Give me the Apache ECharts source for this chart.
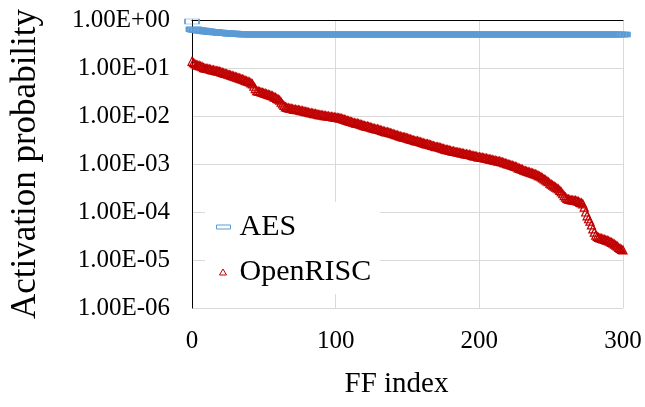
<!DOCTYPE html>
<html>
<head>
<meta charset="utf-8">
<script src="https://cdn.jsdelivr.net/npm/echarts@6/dist/echarts.min.js"></script>
<style>html,body{margin:0;padding:0;background:#fff}#c{width:645px;height:407px}</style>
</head>
<body>
<div id="c"></div>
<script>
// FF index 0..300
const aesValues = [
0.93,0.64,0.63,0.62,0.61,0.61,0.60,0.60,0.59,0.59,
0.58,0.58,0.57,0.57,0.56,0.56,0.56,0.55,0.55,0.55,
0.54,0.54,0.54,0.53,0.53,0.53,0.52,0.52,0.52,0.52,
0.51,0.51,0.51,0.51,0.51,0.50,0.50,0.50,0.50,0.50,
0.50,0.50,0.50,0.50,0.50,0.50,0.50,0.50,0.50,0.50,
0.50,0.50,0.50,0.50,0.50,0.50,0.50,0.50,0.50,0.50,
0.50,0.50,0.50,0.50,0.50,0.50,0.50,0.50,0.50,0.50,
0.50,0.50,0.50,0.50,0.50,0.50,0.50,0.50,0.50,0.50,
0.50,0.50,0.50,0.50,0.50,0.50,0.50,0.50,0.50,0.50,
0.50,0.50,0.50,0.50,0.50,0.50,0.50,0.50,0.50,0.50,
0.50,0.50,0.50,0.50,0.50,0.50,0.50,0.50,0.50,0.50,
0.50,0.50,0.50,0.50,0.50,0.50,0.50,0.50,0.50,0.50,
0.50,0.50,0.50,0.50,0.50,0.50,0.50,0.50,0.50,0.50,
0.50,0.50,0.50,0.50,0.50,0.50,0.50,0.50,0.50,0.50,
0.50,0.50,0.50,0.50,0.50,0.50,0.50,0.50,0.50,0.50,
0.50,0.50,0.50,0.50,0.50,0.50,0.50,0.50,0.50,0.50,
0.50,0.50,0.50,0.50,0.50,0.50,0.50,0.50,0.50,0.50,
0.50,0.50,0.50,0.50,0.50,0.50,0.50,0.50,0.50,0.50,
0.50,0.50,0.50,0.50,0.50,0.50,0.50,0.50,0.50,0.50,
0.50,0.50,0.50,0.50,0.50,0.50,0.50,0.50,0.50,0.50,
0.50,0.50,0.50,0.50,0.50,0.50,0.50,0.50,0.50,0.50,
0.50,0.50,0.50,0.50,0.50,0.50,0.50,0.50,0.50,0.50,
0.50,0.50,0.50,0.50,0.50,0.50,0.50,0.50,0.50,0.50,
0.50,0.50,0.50,0.50,0.50,0.50,0.50,0.50,0.50,0.50,
0.50,0.50,0.50,0.50,0.50,0.50,0.50,0.50,0.50,0.50,
0.50,0.50,0.50,0.50,0.50,0.50,0.50,0.50,0.50,0.50,
0.50,0.50,0.50,0.50,0.50,0.50,0.50,0.50,0.50,0.50,
0.50,0.50,0.50,0.50,0.50,0.50,0.50,0.50,0.50,0.50,
0.50,0.50,0.50,0.50,0.50,0.50,0.50,0.50,0.50,0.50,
0.50,0.50,0.50,0.50,0.50,0.50,0.50,0.50,0.50,0.50,
0.50
];
const openriscValues = [
0.138,0.129,0.123,0.117,0.115,0.112,0.110,0.107,0.102,1.00e-1,
0.977e-1,0.977e-1,0.955e-1,0.933e-1,0.912e-1,0.912e-1,0.891e-1,0.871e-1,0.871e-1,0.851e-1,
0.832e-1,0.813e-1,0.794e-1,0.776e-1,0.759e-1,0.741e-1,0.724e-1,0.708e-1,0.692e-1,0.676e-1,
0.661e-1,0.646e-1,0.631e-1,0.617e-1,0.603e-1,0.589e-1,0.575e-1,0.550e-1,0.537e-1,0.525e-1,
0.513e-1,0.490e-1,0.468e-1,0.417e-1,0.372e-1,0.339e-1,0.331e-1,0.324e-1,0.316e-1,0.309e-1,
0.302e-1,0.295e-1,0.288e-1,0.282e-1,0.275e-1,0.269e-1,0.263e-1,0.251e-1,0.245e-1,0.234e-1,
0.224e-1,0.214e-1,0.195e-1,0.178e-1,0.166e-1,0.155e-1,0.151e-1,0.148e-1,0.145e-1,0.145e-1,
0.141e-1,0.138e-1,0.138e-1,0.135e-1,0.135e-1,0.132e-1,0.129e-1,0.129e-1,0.126e-1,0.123e-1,
0.123e-1,0.120e-1,0.117e-1,0.117e-1,0.115e-1,0.112e-1,0.112e-1,0.110e-1,0.107e-1,0.107e-1,
0.105e-1,0.105e-1,0.102e-1,0.102e-1,1.00e-2,1.00e-2,0.977e-2,0.977e-2,0.955e-2,0.955e-2,
0.933e-2,0.933e-2,0.912e-2,0.912e-2,0.891e-2,0.871e-2,0.851e-2,0.832e-2,0.813e-2,0.794e-2,
0.776e-2,0.759e-2,0.741e-2,0.724e-2,0.708e-2,0.708e-2,0.692e-2,0.676e-2,0.661e-2,0.646e-2,
0.631e-2,0.617e-2,0.617e-2,0.603e-2,0.589e-2,0.575e-2,0.562e-2,0.550e-2,0.537e-2,0.537e-2,
0.525e-2,0.513e-2,0.501e-2,0.490e-2,0.479e-2,0.468e-2,0.468e-2,0.457e-2,0.447e-2,0.437e-2,
0.427e-2,0.417e-2,0.407e-2,0.398e-2,0.389e-2,0.380e-2,0.372e-2,0.363e-2,0.363e-2,0.355e-2,
0.347e-2,0.339e-2,0.331e-2,0.324e-2,0.316e-2,0.309e-2,0.302e-2,0.302e-2,0.295e-2,0.288e-2,
0.282e-2,0.275e-2,0.269e-2,0.263e-2,0.263e-2,0.257e-2,0.251e-2,0.245e-2,0.240e-2,0.234e-2,
0.229e-2,0.229e-2,0.224e-2,0.219e-2,0.214e-2,0.209e-2,0.204e-2,0.200e-2,0.200e-2,0.195e-2,
0.191e-2,0.186e-2,0.186e-2,0.182e-2,0.178e-2,0.178e-2,0.174e-2,0.170e-2,0.170e-2,0.166e-2,
0.162e-2,0.162e-2,0.158e-2,0.158e-2,0.155e-2,0.151e-2,0.148e-2,0.148e-2,0.145e-2,0.141e-2,
0.141e-2,0.138e-2,0.138e-2,0.135e-2,0.132e-2,0.132e-2,0.129e-2,0.126e-2,0.126e-2,0.123e-2,
0.120e-2,0.120e-2,0.117e-2,0.115e-2,0.115e-2,0.112e-2,0.110e-2,0.107e-2,0.105e-2,0.102e-2,
1.00e-3,0.977e-3,0.955e-3,0.933e-3,0.912e-3,0.891e-3,0.871e-3,0.832e-3,0.813e-3,0.794e-3,
0.776e-3,0.741e-3,0.724e-3,0.708e-3,0.692e-3,0.676e-3,0.661e-3,0.646e-3,0.631e-3,0.617e-3,
0.603e-3,0.575e-3,0.562e-3,0.537e-3,0.513e-3,0.490e-3,0.468e-3,0.447e-3,0.427e-3,0.398e-3,
0.380e-3,0.363e-3,0.347e-3,0.331e-3,0.316e-3,0.302e-3,0.282e-3,0.263e-3,0.240e-3,0.219e-3,
0.204e-3,0.191e-3,0.186e-3,0.182e-3,0.178e-3,0.178e-3,0.174e-3,0.174e-3,0.170e-3,0.166e-3,
0.158e-3,0.155e-3,0.148e-3,0.126e-3,1.00e-4,0.832e-4,0.724e-4,0.646e-4,0.537e-4,0.447e-4,
0.380e-4,0.331e-4,0.309e-4,0.295e-4,0.288e-4,0.282e-4,0.275e-4,0.269e-4,0.263e-4,0.257e-4,
0.251e-4,0.240e-4,0.234e-4,0.224e-4,0.214e-4,0.204e-4,0.195e-4,0.182e-4,0.174e-4,0.166e-4,
0.162e-4
];
const seriesNames = ['AES', 'OpenRISC'];
const xTicks = [0, 100, 200, 300];
const yTicks = [1, 1e-1, 1e-2, 1e-3, 1e-4, 1e-5, 1e-6];

const FONT = 'Liberation Serif';
const BLUE = '#5B9BD5';
const RED = '#C00000';

function fmtExp(v) {
  const e = Math.round(Math.log10(v));
  const m = v / Math.pow(10, e);
  const sign = e < 0 ? '-' : '+';
  const a = Math.abs(e);
  return m.toFixed(2) + 'E' + sign + (a < 10 ? '0' + a : a);
}

const chart = echarts.init(document.getElementById('c'), null, {renderer: 'canvas'});
chart.setOption({
  animation: false,
  backgroundColor: '#fff',
  grid: {left: 189, right: 22, top: 20, bottom: 99, containLabel: false},
  xAxis: [{
    type: 'value', min: xTicks[0], max: xTicks[xTicks.length - 1], interval: 100,
    position: 'bottom',
    name: 'FF index', nameLocation: 'middle', nameGap: 62,
    nameTextStyle: {fontFamily: FONT, fontSize: 29, color: '#000', padding: [0, 22, 0, 0]},
    axisLine: {show: false}, axisTick: {show: false},
    axisLabel: {fontFamily: FONT, fontSize: 25, color: '#000', margin: 21},
    splitLine: {show: true, lineStyle: {color: '#d9d9d9', width: 1}}
  }, {
    type: 'value', min: 0, max: 300, position: 'top',
    axisLine: {show: true, onZero: false, lineStyle: {color: '#000', width: 1}},
    axisTick: {show: false}, axisLabel: {show: false}, splitLine: {show: false}
  }],
  yAxis: {
    type: 'log', logBase: 10, min: yTicks[yTicks.length - 1], max: yTicks[0],
    name: 'Activation probability', nameLocation: 'middle', nameGap: 149,
    nameTextStyle: {fontFamily: FONT, fontSize: 35, color: '#000'},
    axisLine: {show: true, lineStyle: {color: '#000', width: 1}},
    axisTick: {show: false},
    axisLabel: {fontFamily: FONT, fontSize: 25, color: '#000', margin: 22, formatter: fmtExp},
    splitLine: {show: true, lineStyle: {color: '#d9d9d9', width: 1}}
  },
  legend: [{
    data: [{name: seriesNames[0], icon: 'rect'}],
    orient: 'vertical', left: 205, top: 202,
    padding: [10, 84, 52, 11],
    backgroundColor: '#fff',
    itemWidth: 14, itemHeight: 4,
    itemStyle: {color: 'rgba(0,0,0,0)', borderColor: BLUE, borderWidth: 1},
    textStyle: {fontFamily: FONT, fontSize: 30, color: '#000', padding: [0, 0, 0, 4]},
    z: 5
  }, {
    data: [{name: seriesNames[1], icon: 'triangle'}],
    orient: 'vertical', left: 219, top: 257,
    padding: 0,
    itemWidth: 7, itemHeight: 6,
    itemStyle: {color: 'rgba(0,0,0,0)', borderColor: RED, borderWidth: 1},
    textStyle: {fontFamily: FONT, fontSize: 30, color: '#000', padding: [0, 0, 0, 8]},
    z: 6
  }],
  series: [{
    name: seriesNames[0], type: 'scatter',
    symbol: 'rect', symbolSize: [14, 5],
    itemStyle: {color: 'rgba(0,0,0,0)', borderColor: BLUE, borderWidth: 1, opacity: 1},
    data: aesValues.map((v, i) => [i, v]),
    z: 2
  }, {
    name: seriesNames[1], type: 'scatter',
    symbol: 'triangle', symbolSize: 8,
    itemStyle: {color: 'rgba(0,0,0,0)', borderColor: RED, borderWidth: 1.2, opacity: 1},
    data: openriscValues.map((v, i) => [i, v]),
    z: 3
  }]
});
</script>
</body>
</html>
